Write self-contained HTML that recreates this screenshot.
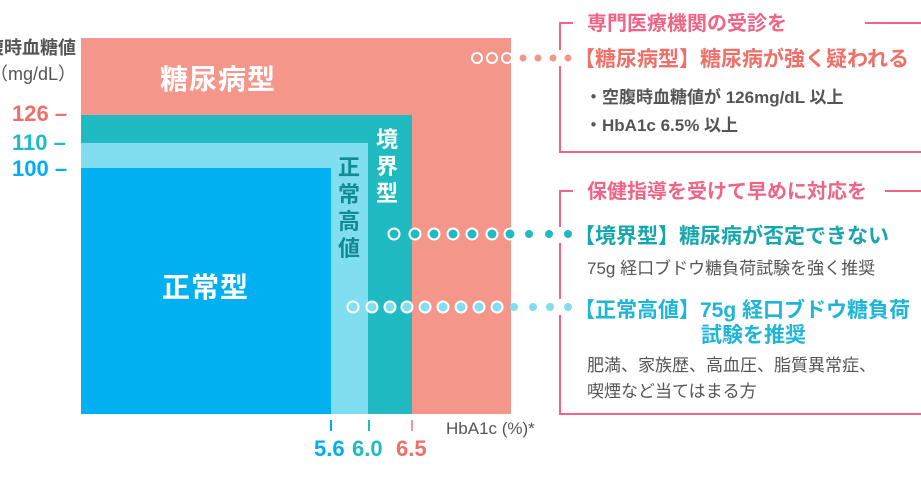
<!DOCTYPE html>
<html><head><meta charset="utf-8"><style>
body{margin:0;background:#fff;}
svg{display:block;font-family:"Liberation Sans","Noto Sans CJK JP",sans-serif;}
</style></head><body>
<svg width="921" height="484" viewBox="0 0 921 484" xmlns="http://www.w3.org/2000/svg">
<rect x="81" y="38" width="430" height="376" fill="#F5968A"/>
<rect x="81" y="115" width="331" height="299" fill="#20BBC2"/>
<rect x="81" y="143" width="287" height="271" fill="#80DEF0"/>
<rect x="81" y="168" width="250" height="246" fill="#00B0F0"/>
<text x="160" y="89" font-size="28" font-weight="bold" fill="#fff" letter-spacing="1">糖尿病型</text>
<text x="162" y="297" font-size="28" font-weight="bold" fill="#fff" letter-spacing="1">正常型</text>
<g font-size="22" font-weight="bold" fill="#fff"><text x="376" y="147">境</text><text x="376" y="174">界</text><text x="376" y="201">型</text></g>
<g font-size="22" font-weight="bold" fill="#118A94"><text x="338" y="175">正</text><text x="338" y="202">常</text><text x="338" y="229">高</text><text x="338" y="256">値</text></g>
<g font-size="18" fill="#555" text-anchor="end"><text x="76" y="54" font-weight="bold">空腹時血糖値</text><text x="76" y="80">（mg/dL）</text></g>
<g font-size="22" font-weight="bold"><text x="12" y="121" fill="#EE7068">126 –</text><text x="12" y="150" fill="#20BBC2">110 –</text><text x="12" y="176" fill="#00AEEF">100 –</text></g>
<g stroke-width="2"><line x1="331" y1="420" x2="331" y2="431" stroke="#00AEEF"/><line x1="369" y1="420" x2="369" y2="431" stroke="#20BBC2"/><line x1="412" y1="420" x2="412" y2="431" stroke="#F5968A"/></g>
<g font-size="22" font-weight="bold"><text x="314" y="456" fill="#00AEEF">5.6</text><text x="352" y="456" fill="#20BBC2">6.0</text><text x="396" y="456" fill="#EE7068">6.5</text></g>
<text x="446" y="434" font-size="17" fill="#555">HbA1c (%)*</text>
<g stroke="#F06485" stroke-width="2" fill="none">
<path d="M573 23 H560 V50 M560 66 V152 H921 M865 23 H921"/>
<path d="M573 191 H560 V227 M560 243 V299 M560 315 V414 H921 M885 191 H921"/>
</g>
<text x="587" y="30" font-size="20" font-weight="bold" fill="#F06485">専門医療機関の受診を</text>
<text x="587" y="198" font-size="20" font-weight="bold" fill="#F06485">保健指導を受けて早めに対応を</text>
<text x="574" y="66" font-size="21" font-weight="bold" fill="#EE7068">【糖尿病型】糖尿病が強く疑われる</text>
<g font-size="17" font-weight="bold" fill="#555"><text x="585" y="103">・空腹時血糖値が 126mg/dL 以上</text><text x="585" y="131">・HbA1c 6.5% 以上</text></g>
<text x="574" y="243" font-size="21" font-weight="bold" fill="#17A6AD">【境界型】糖尿病が否定できない</text>
<text x="587" y="274" font-size="17" fill="#555">75g 経口ブドウ糖負荷試験を強く推奨</text>
<text x="574" y="317" font-size="21" font-weight="bold" fill="#1DB5D8">【正常高値】75g 経口ブドウ糖負荷</text>
<text x="701" y="342" font-size="21" font-weight="bold" fill="#1DB5D8">試験を推奨</text>
<g font-size="17" fill="#555"><text x="587" y="371">肥満、家族歴、高血圧、脂質異常症、</text><text x="587" y="397">喫煙など当てはまる方</text></g>
<g stroke="#fff" stroke-width="2" fill="#F5968A"><circle cx="477" cy="58" r="5"/><circle cx="492" cy="58" r="5"/><circle cx="507" cy="58" r="5"/></g>
<g fill="#F5968A"><circle cx="523" cy="58" r="3.5"/><circle cx="538" cy="58" r="3.5"/><circle cx="553" cy="58" r="3.5"/><circle cx="568" cy="58" r="3.5"/></g>
<g stroke="#fff" stroke-width="2" fill="#20BBC2"><circle cx="394" cy="234" r="5.5"/><circle cx="415" cy="234" r="5.5"/><circle cx="434" cy="234" r="5.5"/><circle cx="453" cy="234" r="5.5"/><circle cx="472" cy="234" r="5.5"/><circle cx="492" cy="234" r="5.5"/><circle cx="510" cy="234" r="5.5"/></g>
<g fill="#20BBC2"><circle cx="529" cy="234" r="4"/><circle cx="549" cy="234" r="4"/><circle cx="568" cy="234" r="4"/></g>
<g stroke="#fff" stroke-width="2" fill="#80DEF0"><circle cx="353" cy="307" r="5.5"/><circle cx="372" cy="307" r="5.5"/><circle cx="390" cy="307" r="5.5"/><circle cx="407" cy="307" r="5.5"/><circle cx="425" cy="307" r="5.5"/><circle cx="443" cy="307" r="5.5"/><circle cx="461" cy="307" r="5.5"/><circle cx="479" cy="307" r="5.5"/><circle cx="497" cy="307" r="5.5"/></g>
<g fill="#80DEF0"><circle cx="514" cy="307" r="4"/><circle cx="533" cy="307" r="4"/><circle cx="550" cy="307" r="4"/><circle cx="568" cy="307" r="4"/></g>
</svg>
</body></html>
